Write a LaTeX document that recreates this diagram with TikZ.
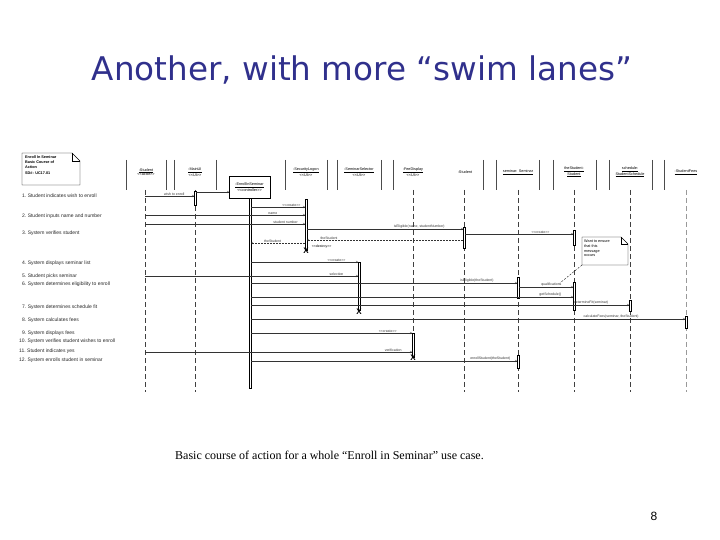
\documentclass[tikz,border=0pt]{standalone}
\usepackage{fontspec}
\setmainfont{Liberation Serif}
\newfontfamily\diafont{Liberation Sans}
\newfontfamily\titlefont{DejaVu Sans}
\usetikzlibrary{arrows.meta}
\definecolor{titleblue}{RGB}{48,48,140}
\tikzset{
  lane/.style={line width=0.45pt, black!70},
  life/.style={dash pattern=on 5pt off 3pt, line width=0.3pt, black!75},
  act/.style={fill=white, line width=0.3pt},
  msg/.style={-{To[length=2pt,width=2.4pt]}, line width=0.3pt, black!80},
  ret/.style={msg, dash pattern=on 2pt off 1pt},
  lbl/.style={font=\diafont\fontsize{3.5}{4}\selectfont, inner sep=0.6pt},
  head/.style={font=\diafont\fontsize{3.8}{4.6}\selectfont, align=center, inner sep=0pt},
  stepline/.style={font=\diafont\fontsize{5}{6}\selectfont, anchor=west, inner sep=0pt, black!85},
  killmark/.style={font=\diafont\bfseries\fontsize{8}{8}\selectfont, inner sep=0pt}
}
\begin{document}
\begin{tikzpicture}[x=1pt,y=-1pt]
\useasboundingbox (0,0) rectangle (720,540);
% title and caption
\node[titleblue, font=\titlefont\fontsize{32.6}{34}\selectfont] (title) at (362,70) {Another, with more “swim lanes”};
\node[anchor=west, font=\fontsize{12}{13}\selectfont, inner sep=0pt] (caption) at (175,455) {Basic course of action for a whole “Enroll in Seminar” use case.};
\node[font=\diafont\fontsize{12}{12}\selectfont, inner sep=0pt] (page) at (654,516) {8};
% note on the left
\draw[line width=0.4pt] (22,153) -- (72,153) -- (80,161) -- (80,185) -- (22,185) -- cycle;
\draw[line width=0.4pt] (72,153) -- (72,161) -- (80,161);
\node[anchor=north west, font=\diafont\bfseries\fontsize{3.8}{4.8}\selectfont, align=left, inner sep=0pt] (sdnote) at (25,156) {Enroll In Seminar\\Basic Course of\\Action\\[1.5pt]SD\#: UC17.01};
% swim lane bars
\foreach \x in {126,166,174,216,285,327,337,381,393,483,496,539,553,596,609,652,664}
  \draw[lane] (\x,160) -- (\x,190);
% headers
\node[head] (hstu) at (146,172) {\underline{:Student}\\<<actor>>};
\node[head] (hui) at (195,172) {\underline{:MainUI}\\<<UI>>};
\node[head] (hlog) at (306,172) {\underline{:SecurityLogon}\\<<UI>>};
\node[head] (hsel) at (359,172) {\underline{:SeminarSelector}\\<<UI>>};
\node[head] (hfee) at (413,172) {\underline{:FeeDisplay}\\<<UI>>};
\node[head] (hstd) at (465,172) {:Student};
\node[head] (hsem) at (518,172) {\underline{seminar: Seminar}};
\node[head] (hthe) at (574,172) {\underline{theStudent:}\\\underline{Student}};
\node[head] (hsch) at (630,172) {\underline{schedule:}\\\underline{StudentSchedule}};
\node[head] (hfs) at (686,172) {\underline{:StudentFees}};
\node[head, draw, line width=0.4pt, minimum width=41pt, minimum height=22pt] (hctl) at (249.5,187) {\underline{:EnrollInSeminar}\\<<controller>>};
% lifeline coordinates
\coordinate (stu) at (145,190);
\coordinate (ui) at (195,190);
\coordinate (ctl) at (250,198);
\coordinate (log) at (306,198);
\coordinate (sel) at (359,262);
\coordinate (fee) at (413,190);
\coordinate (std) at (464,190);
\coordinate (sem) at (518,190);
\coordinate (the) at (574,190);
\coordinate (sch) at (630,190);
\coordinate (fs) at (686,190);
% lifelines
\foreach \c in {stu,ui,std,sem,the,sch}
  \draw[life] (\c) -- (\c |- 0,392);
\draw[life, black!40] (fs) -- (fs |- 0,392);
\draw[life] (fee) -- (fee |- 0,333);
% activations
\draw[act] (194,191) rectangle (196.5,205);
\draw[act] (248.8,198) rectangle (251.2,388);
\draw[act] (304.8,199) rectangle (307.2,250);
\draw[act] (357.8,262) rectangle (360.2,310);
\draw[act] (411.8,333) rectangle (414.2,357);
\draw[act] (462.8,227) rectangle (465.2,248);
\draw[act] (516.8,277) rectangle (519.2,298);
\draw[act] (516.8,355) rectangle (519.2,368);
\draw[act] (572.8,230) rectangle (575.2,245);
\draw[act] (572.8,282) rectangle (575.2,310);
\draw[act] (628.8,300) rectangle (631.2,311);
\draw[act] (684.8,316) rectangle (687.2,328);
% destructions
\node[killmark] (xlog) at (306,251) {X};
\node[killmark] (xsel) at (359,312) {X};
\node[killmark] (xfee) at (413,358) {X};
\node[lbl, anchor=west] (dlog) at (311,247) {<<destroy>>};
% messages
\draw[msg] (stu |- 0,196) -- node[lbl, above, pos=0.6] {wish to enroll} ([xshift=-1.2pt]ui |- 0,196);
\draw[msg] ([xshift=1.2pt]ui |- 0,192) -- (hctl.west |- 0,192);
\draw[msg] ([xshift=1.2pt]ctl |- 0,207) -- node[lbl, above, pos=0.75] {<<create>>} ([xshift=-1.2pt]log |- 0,207);
\draw[msg] (stu |- 0,215) -- node[lbl, above, pos=0.8] {name} ([xshift=-1.2pt]log |- 0,215);
\draw[msg] (stu |- 0,224) -- node[lbl, above, pos=0.88] {student number} ([xshift=-1.2pt]log |- 0,224);
\draw[msg] ([xshift=1.2pt]log |- 0,229) -- node[lbl, above, pos=0.72] {isEligible(name, studentNumber)} ([xshift=-1.2pt]std |- 0,229);
\draw[msg] ([xshift=1.2pt]std |- 0,234) -- node[lbl, above, pos=0.7] {<<create>>} ([xshift=-1.2pt]the |- 0,234);
\draw[ret] ([xshift=-1.2pt]std |- 0,240) -- node[lbl, above, pos=0.86] {theStudent} ([xshift=1.2pt]log |- 0,240);
\draw[ret] ([xshift=-1.2pt]log |- 0,243) -- node[lbl, above, pos=0.6] {theStudent} ([xshift=1.2pt]ctl |- 0,243);
\draw[msg] ([xshift=1.2pt]ctl |- 0,262) -- node[lbl, above, pos=0.8] {<<create>>} ([xshift=-1.2pt]sel |- 0,262);
\draw[msg] (stu |- 0,276) -- node[lbl, above, pos=0.9] {selection} ([xshift=-1.2pt]sel |- 0,276);
\draw[msg] ([xshift=1.2pt]ctl |- 0,283) -- node[lbl, above, pos=0.85] {isEligible(theStudent)} ([xshift=-1.2pt]sem |- 0,283);
\draw[msg] ([xshift=1.2pt]sem |- 0,287) -- node[lbl, above, pos=0.6] {qualifications} ([xshift=-1.2pt]the |- 0,287);
\draw[msg] ([xshift=1.2pt]ctl |- 0,297) -- node[lbl, above, pos=0.93] {getSchedule()} ([xshift=-1.2pt]the |- 0,297);
\draw[msg] ([xshift=1.2pt]ctl |- 0,305) -- node[lbl, above, pos=0.9] {determineFit(seminar)} ([xshift=-1.2pt]sch |- 0,305);
\draw[msg] ([xshift=1.2pt]ctl |- 0,319) -- node[lbl, above, pos=0.83] {calculateFees(seminar, theStudent)} ([xshift=-1.2pt]fs |- 0,319);
\draw[msg] ([xshift=1.2pt]ctl |- 0,333) -- node[lbl, above, pos=0.85] {<<create>>} ([xshift=-1.2pt]fee |- 0,333);
\draw[msg] (stu |- 0,352) -- node[lbl, above, pos=0.93] {verification} ([xshift=-1.2pt]fee |- 0,352);
\draw[msg] ([xshift=1.2pt]ctl |- 0,361) -- node[lbl, above, pos=0.9] {enrollStudent(theStudent)} ([xshift=-1.2pt]sem |- 0,361);
% note on a message
\draw[line width=0.4pt, fill=white] (582,237) -- (621,237) -- (628,244) -- (628,265) -- (582,265) -- cycle;
\draw[line width=0.4pt] (621,237) -- (621,244) -- (628,244);
\node[anchor=north west, font=\diafont\fontsize{3.8}{4.6}\selectfont, align=left, inner sep=0pt] (fnote) at (584,240) {Want to ensure\\that this\\message\\occurs};
\coordinate (qmsg) at (560,283);
\draw[dash pattern=on 2pt off 1.5pt, line width=0.35pt] (582,265) -- (qmsg);
% steps of the use case
\node[stepline] (s1) at (22,196) {1.\ Student indicates wish to enroll};
\node[stepline] (s2) at (22,216) {2.\ Student inputs name and number};
\node[stepline] (s3) at (22,233) {3.\ System verifies student};
\node[stepline] (s4) at (22,263) {4.\ System displays seminar list};
\node[stepline] (s5) at (22,276) {5.\ Student picks seminar};
\node[stepline] (s6) at (22,284) {6.\ System determines eligibility to enroll};
\node[stepline] (s7) at (22,307) {7.\ System determines schedule fit};
\node[stepline] (s8) at (22,320) {8.\ System calculates fees};
\node[stepline] (s9) at (22,333) {9.\ System displays fees};
\node[stepline] (s10) at (19,341) {10.\ System verifies student wishes to enroll};
\node[stepline] (s11) at (19,351) {11.\ Student indicates yes};
\node[stepline] (s12) at (19,360) {12.\ System enrolls student in seminar};
\end{tikzpicture}
\end{document}
